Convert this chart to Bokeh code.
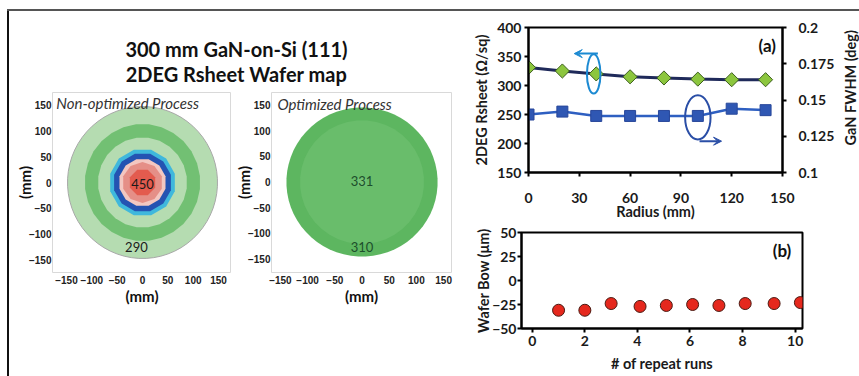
import numpy as np
from bokeh.plotting import figure
from bokeh.models import (Range1d, LinearAxis, FixedTicker, Label, Arrow, VeeHead,
                          Div, Spacer, NumeralTickFormatter)
from bokeh.layouts import row, column
from bokeh.embed import file_html
from bokeh.resources import INLINE

# ---------------- data ----------------
title_lines = ["300 mm GaN-on-Si (111)", "2DEG Rsheet Wafer map"]
map_ticks = [-150, -100, -50, 0, 50, 100, 150]

# non-optimized wafer map: contour bands (outer radius in mm), drawn outside-in
nonopt_ring_r = [148, 114, 88, 66, 58, 47, 40, 27]
nonopt_ring_sides = [64, 28, 24, 12, 12, 12, 10, 8]
nonopt_ring_colors = ["#b5dcb1", "#72c073", "#b5dcb1", "#3fb8dc",
                      "#2453b2", "#f3c7c1", "#e58f87", "#e35b4e"]
nonopt_labels = ["450", "290"]
nonopt_label_x = [0, -12]
nonopt_label_y = [-2, -125]

# optimized wafer map
opt_ring_rx = [139, 114, 12]
opt_ring_ry = [146, 121, 12]
opt_ring_sides = [64, 40, 4]
opt_ring_colors = ["#5db660", "#69bd6b", "#74c376"]
opt_labels = ["331", "310"]
opt_label_x = [0, 0]
opt_label_y = [2, -128]

# (a) radial profile
radius_mm = [0, 20, 40, 60, 80, 100, 120, 140]
rsheet = [331, 325, 320, 315, 313, 311, 310, 310]
fwhm = [0.140, 0.142, 0.139, 0.139, 0.139, 0.139, 0.144, 0.143]
radius_ticks = [0, 30, 60, 90, 120, 150]
rsheet_ticks = [150, 200, 250, 300, 350, 400]
fwhm_ticks = [0.1, 0.125, 0.15, 0.175, 0.2]

# (b) wafer bow
run_no = [1, 2, 3, 4.1, 5.1, 6.1, 7.1, 8.1, 9.2, 10.2]
bow = [-31, -31, -24, -27, -26, -25, -26, -24, -24, -23]
run_ticks = [0, 2, 4, 6, 8, 10]
bow_ticks = [-50, -25, 0, 25, 50]

FONT = "Lato"


def poly(rx, ry, n):
    t = np.linspace(0, 2 * np.pi, n, endpoint=False) + np.pi / n
    return list(rx * np.cos(t)), list(ry * np.sin(t))


def make_map(width, height, bl, br, bt, bb, xr, yr):
    p = figure(width=width, height=height, x_range=Range1d(*xr), y_range=Range1d(*yr),
               min_border_left=bl, min_border_right=br, min_border_top=bt,
               min_border_bottom=bb, toolbar_location=None, output_backend="svg")
    p.xgrid.visible = False
    p.ygrid.visible = False
    p.outline_line_color = "#d9d9d9"
    p.outline_line_width = 1
    for ax in (p.xaxis[0], p.yaxis[0]):
        ax.ticker = FixedTicker(ticks=map_ticks)
        ax.axis_line_color = None
        ax.major_tick_line_color = None
        ax.minor_tick_line_color = None
        ax.major_tick_out = 0
        ax.major_tick_in = 0
        ax.major_label_text_font = "Liberation Sans"
        ax.major_label_text_font_size = "10px"
        ax.major_label_text_font_style = "bold"
        ax.major_label_text_color = "#222222"
        ax.axis_label = "(mm)"
        ax.axis_label_text_font = FONT
        ax.axis_label_text_font_size = "15px"
        ax.axis_label_text_font_style = "bold"
        ax.axis_label_text_color = "#111111"
        ax.axis_label_standoff = 0
    p.yaxis.major_label_standoff = 1
    p.yaxis.axis_label_standoff = -8
    p.xaxis.major_label_standoff = 3
    return p


# ---------------- title ----------------
tf = figure(width=461, height=77, x_range=Range1d(0, 461), y_range=Range1d(77, 0),
            x_axis_type=None, y_axis_type=None, min_border=0, toolbar_location=None,
            output_backend="svg")
tf.outline_line_color = None
for i, t in enumerate(title_lines):
    tf.add_layout(Label(x=227, y=37 + 25 * i, text=t, text_align="center",
                        text_baseline="middle", text_font=FONT, text_font_size="20px",
                        text_font_style="bold", text_color="#111111"))

# ---------------- map 1 ----------------
m1 = make_map(222, 288, 43, 0, 4, 104, (-177.6, 175.6), (-175.3, 175.3))
xs, ys = [], []
for r, n in zip(nonopt_ring_r, nonopt_ring_sides):
    x, y = poly(r, r, n)
    xs.append(x)
    ys.append(y)
m1.patches(xs[:1], ys[:1], fill_color=nonopt_ring_colors[0], line_color="#a8a8a8", line_width=1)
m1.patches(xs[1:], ys[1:], fill_color=nonopt_ring_colors[1:], line_color=None)
m1.text(nonopt_label_x, nonopt_label_y, text=nonopt_labels, text_align="center",
        text_baseline="middle", text_font_size="13px", text_color="#1a1a1a",
        text_font={"value": FONT})
m1.add_layout(Label(x=-170, y=154, text="Non-optimized Process", text_font=FONT,
                    text_font_size="15px", text_font_style="italic",
                    text_color="#333333", text_baseline="alphabetic"))

# ---------------- map 2 ----------------
m2 = make_map(239, 288, 38, 19, 3, 103, (-166.4, 164.5), (-177.1, 175.2))
xs, ys = [], []
for rx, ry, n in zip(opt_ring_rx, opt_ring_ry, opt_ring_sides):
    x, y = poly(rx, ry, n)
    xs.append(x)
    ys.append(y)
m2.patches(xs, ys, fill_color=opt_ring_colors, line_color=None)
m2.text(opt_label_x, opt_label_y, text=opt_labels, text_align="center",
        text_baseline="middle", text_font_size="13px", text_color="#1d4f2c",
        text_font={"value": FONT})
m2.add_layout(Label(x=-155.5, y=152, text="Optimized Process", text_font=FONT,
                    text_font_size="15px", text_font_style="italic",
                    text_color="#333333", text_baseline="alphabetic"))


def style_axis(ax, ticks):
    ax.ticker = FixedTicker(ticks=ticks)
    ax.axis_line_color = "black"
    ax.axis_line_width = 2
    ax.major_tick_line_color = "black"
    ax.major_tick_line_width = 2
    ax.major_tick_out = 4
    ax.major_tick_in = 0
    ax.minor_tick_line_color = None
    ax.major_label_text_font = FONT
    ax.major_label_text_font_size = "14px"
    ax.major_label_text_font_style = "bold"
    ax.major_label_text_color = "#1a1a1a"
    ax.major_label_standoff = 3
    ax.axis_label_text_font = FONT
    ax.axis_label_text_font_size = "14.5px"
    ax.axis_label_text_font_style = "bold"
    ax.axis_label_text_color = "#1a1a1a"
    ax.axis_label_standoff = 4


# ---------------- (a) ----------------
pa = figure(width=371, height=213, x_range=Range1d(0, 150), y_range=Range1d(150, 400),
            min_border_left=58, min_border_right=59, min_border_top=16, min_border_bottom=52,
            toolbar_location=None, output_backend="svg")
pa.extra_y_ranges = {"fwhm": Range1d(0.1, 0.2)}
pa.xgrid.visible = False
pa.ygrid.visible = False
pa.outline_line_color = "black"
pa.outline_line_width = 2
ax_r = LinearAxis(y_range_name="fwhm")
pa.add_layout(ax_r, "right")
style_axis(pa.xaxis[0], radius_ticks)
style_axis(pa.yaxis[0], rsheet_ticks)
style_axis(ax_r, fwhm_ticks)
ax_r.formatter = NumeralTickFormatter(format="0.[000]")
ax_r.major_label_standoff = 12
pa.xaxis[0].axis_label = "Radius (mm)"
pa.xaxis[0].major_label_standoff = 16
pa.xaxis[0].axis_label_standoff = -3
pa.yaxis[0].axis_label = "2DEG Rsheet (Ω/sq)"

pa.line(radius_mm, rsheet, line_color="#1f2a5a", line_width=3)
pa.scatter(radius_mm, rsheet, marker="square", angle=np.pi / 4, size=10,
           fill_color="#8cc63e", line_color="#3d5f1e", line_width=1)
pa.line(radius_mm, fwhm, y_range_name="fwhm", line_color="#2e5fc1", line_width=2.5)
pa.scatter(radius_mm, fwhm, y_range_name="fwhm", marker="square", size=11,
           fill_color="#2f57b3", line_color="#28479a", line_width=1)

pa.ellipse(x=[38.5], y=[320], width=8, height=68, fill_color=None,
           line_color="#1c8ad2", line_width=2)
pa.add_layout(Arrow(end=VeeHead(size=8, fill_color="#1c8ad2", line_color="#1c8ad2"),
                    x_start=41, y_start=355, x_end=27, y_end=355,
                    line_color="#1c8ad2", line_width=2))
pa.ellipse(x=[100], y=[245], width=15, height=76, fill_color=None,
           line_color="#2a4ea6", line_width=2)
pa.add_layout(Arrow(end=VeeHead(size=8, fill_color="#2a4ea6", line_color="#2a4ea6"),
                    x_start=101, y_start=204, x_end=114, y_end=204,
                    line_color="#2a4ea6", line_width=2))
pa.add_layout(Label(x=141, y=369, text="(a)", text_align="center", text_baseline="middle",
                    text_font=FONT, text_font_size="17px", text_font_style="bold",
                    text_color="#111111"))

# right-axis title of (a), reading upwards, in a narrow strip beside the axis
ra = figure(width=18, height=213, x_range=Range1d(0, 18), y_range=Range1d(0, 213),
            x_axis_type=None, y_axis_type=None, min_border=0, toolbar_location=None,
            output_backend="svg")
ra.outline_line_color = None
ra.add_layout(Label(x=9, y=124.5, text="GaN FWHM (deg)", angle=np.pi / 2,
                    text_align="center", text_baseline="middle", text_font=FONT,
                    text_font_size="14.5px", text_font_style="bold",
                    text_color="#1a1a1a"))

# ---------------- (b) ----------------
pb = figure(width=389, height=152, x_range=Range1d(-0.41, 10.28), y_range=Range1d(-50, 50),
            min_border_left=51, min_border_right=57, min_border_top=8, min_border_bottom=48,
            toolbar_location=None, output_backend="svg")
pb.xgrid.visible = False
pb.ygrid.visible = False
pb.outline_line_color = "black"
pb.outline_line_width = 2
style_axis(pb.xaxis[0], run_ticks)
style_axis(pb.yaxis[0], bow_ticks)
pb.yaxis[0].major_label_standoff = 1
pb.yaxis[0].axis_label_standoff = -3
pb.xaxis[0].axis_label = "# of repeat runs"
pb.xaxis[0].axis_label_standoff = 6
pb.yaxis[0].axis_label = "Wafer Bow (μm)"
pb.scatter(run_no, bow, size=12, fill_color="#e5281d", line_color="#4a1a12", line_width=1)
pb.add_layout(Label(x=9.5, y=31, text="(b)", text_align="center", text_baseline="middle",
                    text_font=FONT, text_font_size="17px", text_font_style="bold",
                    text_color="#111111"))

# ---------------- layout ----------------
top_line = Div(text="", width=852, height=2, margin=0,
               styles={"background-color": "#555555"})
left_line = Div(text="", width=2, height=365, margin=0,
                styles={"background-color": "#111111"})
left_block = column(tf, row(m1, m2))
right_block = column(row(pa, ra), pb)
layout = column(
    Spacer(width=859, height=9, margin=0),
    row(Spacer(width=7, height=2, margin=0), top_line),
    row(Spacer(width=7, height=365, margin=0), left_line, left_block, right_block),
)

open("out.html", "w").write(file_html(layout, INLINE))
